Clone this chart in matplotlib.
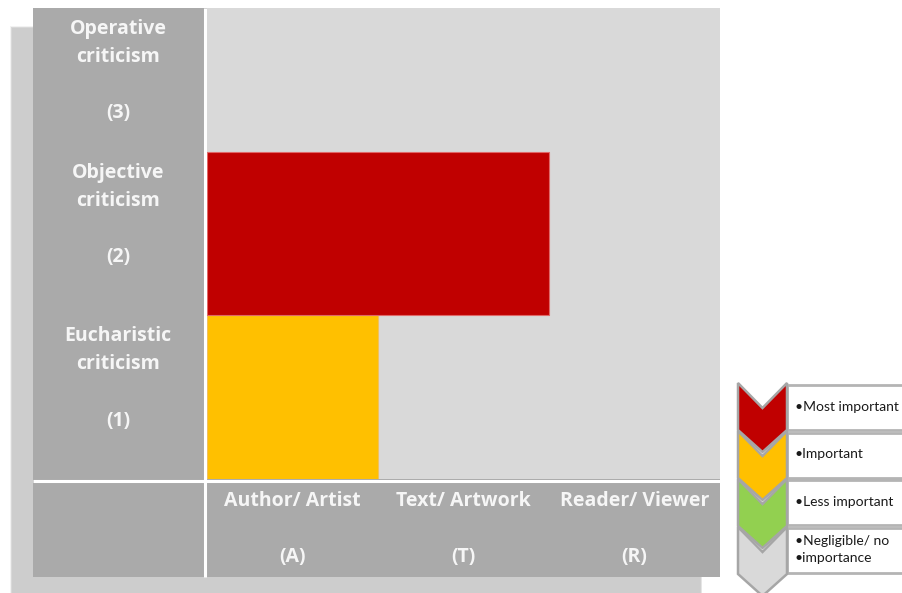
import matplotlib
matplotlib.use("Agg")
import matplotlib.pyplot as plt
from matplotlib.patches import Rectangle, Polygon

# ---- data ----
focus_labels = ["Author/ Artist\n\n(A)", "Text/ Artwork\n\n(T)", "Reader/ Viewer\n\n(R)"]
criticism_labels = ["Eucharistic\ncriticism\n\n(1)", "Objective\ncriticism\n\n(2)", "Operative\ncriticism\n\n(3)"]
criticism_level = [1, 2]          # rows that carry a bar
bar_reach = [1, 2]                # number of focus columns covered by the bar
bar_colors = ["#ffc000", "#c00000"]

legend_labels = ["•Most important", "•Important", "•Less important", "•Negligible/ no\n•importance"]
legend_colors = ["#c00000", "#ffc000", "#92d050", "#d9d9d9"]

# ---- styling ----
W, H = 902, 593
GRID_GRAY = "#aaaaaa"
PLOT_BG = "#d9d9d9"
TEXT_COL = "#f6f6f6"
FONT = "Open Sans"
LEG_FONT = "Lato"

fig = plt.figure(figsize=(W / 100, H / 100), dpi=100)
fig.patch.set_facecolor("white")

# background layer in pixel units (y downwards)
bg = fig.add_axes([0, 0, 1, 1], zorder=0)
bg.set_xlim(0, W)
bg.set_ylim(H, 0)
bg.axis("off")

# soft drop shadow behind the table
for i, a in enumerate([0.25, 0.35, 0.5, 0.7, 1.0]):
    g = 4 - i
    bg.add_patch(Rectangle((12 - g * 0.5, 28 - g * 0.5), 688 + g, 580 + g,
                           facecolor="#cdcdcd", edgecolor="none", alpha=a))

# table frame: gray header column and footer row with white separators
bg.add_patch(Rectangle((33, 8), 687, 569, facecolor=GRID_GRAY, edgecolor="none"))
bg.plot([204.5, 204.5], [8, 577], color="white", lw=2.2, solid_capstyle="butt")
bg.plot([33, 720], [481, 481], color="white", lw=2.2, solid_capstyle="butt")

# legend: chevrons with boxed captions
for k in range(len(legend_labels) - 1, -1, -1):
    top = 385 + 47.5 * k
    bg.add_patch(Rectangle((787, top), 125, 45, facecolor="white",
                           edgecolor="#b4b4b4", lw=2.0, zorder=2))
    bg.text(795, top + 22, legend_labels[k], fontsize=10, family=LEG_FONT,
            color="#1a1a1a", va="center", ha="left", linespacing=1.45, zorder=3)
for k in range(len(legend_colors) - 1, -1, -1):
    top = 383 + 48 * k
    pts = [(738, top), (762.5, top + 25), (787, top), (787, top + 47),
           (762.5, top + 69), (738, top + 47)]
    bg.add_patch(Polygon(pts, closed=True, facecolor=legend_colors[k],
                         edgecolor="#a6a6a6", lw=1.8, joinstyle="miter", zorder=4))

# ---- main matrix ----
x0, x1, y0, y1 = 207, 720, 8, 479
ax = fig.add_axes([x0 / W, 1 - y1 / H, (x1 - x0) / W, (y1 - y0) / H], zorder=1)
ax.set_facecolor(PLOT_BG)
ax.set_xlim(0, len(focus_labels))
YTOP = 2.88
ax.set_ylim(0, YTOP)
for s in ax.spines.values():
    s.set_visible(False)
ax.set_xticks([])
ax.set_yticks([])

ax.barh([lv - 0.5 for lv in criticism_level], bar_reach, height=1.0, left=0,
        color=bar_colors, edgecolor=["#f0c060", "#e06868"], linewidth=0.8)

px_per_unit = (y1 - y0) / YTOP
x_per_px = len(focus_labels) / (x1 - x0)

# row titles in the gray header column
for i, lab in enumerate(criticism_labels):
    row_top = min(i + 1, YTOP)
    ax.text((118 - x0) * x_per_px, row_top - 63 / px_per_unit, lab,
            ha="center", va="center", fontsize=14, fontweight="bold",
            family=FONT, color=TEXT_COL, linespacing=1.55, clip_on=False)

# column titles in the gray footer row
for j, lab in enumerate(focus_labels):
    ax.text(j + 0.5, -(529 - y1) / px_per_unit, lab,
            ha="center", va="center", fontsize=14, fontweight="bold",
            family=FONT, color=TEXT_COL, linespacing=1.55, clip_on=False)

fig.savefig("out.png", dpi=100)
